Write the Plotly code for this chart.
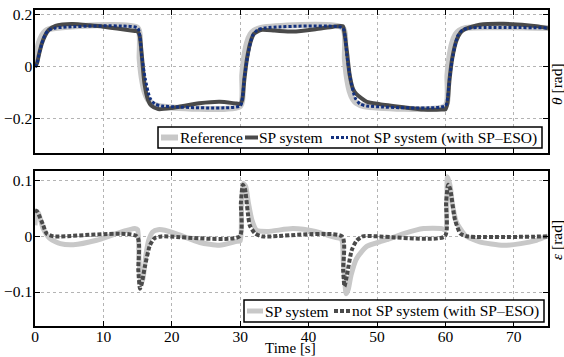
import plotly.graph_objects as go

# ---- data ----
# top: theta [rad]
t_ref = [0, 0.3, 0.6, 1.0, 1.5, 2.0, 3.0, 15.0, 15.3, 15.6, 16.0, 16.5, 17.0, 18.0,
         30.0, 30.3, 30.6, 31.0, 31.5, 32.0, 33.0, 45.0, 45.3, 45.6, 46.0, 46.5, 47.0, 48.0,
         60.0, 60.3, 60.6, 61.0, 61.5, 62.0, 63.0, 75.0]
theta_ref = [0, 0.06, 0.095, 0.12, 0.137, 0.145, 0.15, 0.15, 0.032, -0.04, -0.093, -0.125, -0.139, -0.15,
             -0.15, -0.032, 0.04, 0.093, 0.125, 0.139, 0.15, 0.15, 0.032, -0.04, -0.093, -0.125, -0.139, -0.15,
             -0.15, -0.032, 0.04, 0.093, 0.125, 0.139, 0.15, 0.15]

t_sp = [0, 0.3, 0.6, 1.0, 1.5, 2.0, 3.0, 4.0, 5.5, 8.0, 10.0, 12.0, 14.6, 15.0, 15.3, 15.6, 16.0, 16.5,
        17.0, 18.0, 20.0, 24.0, 27.0, 29.5, 30.0, 30.3, 30.6, 31.0, 31.5, 32.0, 33.0, 35.0, 37.7, 41.0,
        43.6, 45.0, 45.3, 45.6, 46.0, 46.5, 47.0, 48.5, 50.4, 53.9, 56.8, 59.5, 60.0, 60.3, 60.6, 61.0,
        61.6, 62.2, 62.9, 65.0, 68.5, 73.3, 75.0]
theta_sp = [0, 0.015, 0.05, 0.09, 0.122, 0.142, 0.158, 0.163, 0.165, 0.16, 0.155, 0.148, 0.138, 0.137,
            0.12, 0.05, -0.063, -0.125, -0.149, -0.162, -0.158, -0.14, -0.134, -0.141, -0.142, -0.127,
            -0.05, 0.033, 0.095, 0.127, 0.142, 0.14, 0.136, 0.145, 0.155, 0.157, 0.12, 0.06, -0.03,
            -0.085, -0.105, -0.134, -0.143, -0.155, -0.164, -0.164, -0.163, -0.139, -0.05, 0.033,
            0.1, 0.132, 0.146, 0.162, 0.166, 0.157, 0.149]

t_nsp = [0, 0.3, 0.6, 1.0, 1.5, 2.0, 3.0, 15.0, 15.35, 15.6, 16.1, 16.8, 17.5, 18.5,
         30.0, 30.35, 30.6, 31.1, 31.8, 32.5, 33.5, 45.0, 45.35, 45.6, 46.1, 46.8, 47.5, 48.5,
         60.0, 60.35, 60.6, 61.1, 61.8, 62.5, 63.5, 75.0]
theta_nsp = [0, 0.013, 0.05, 0.09, 0.125, 0.141, 0.15, 0.15, 0.114, 0.045, -0.043, -0.119, -0.142, -0.15,
             -0.15, -0.114, -0.045, 0.043, 0.119, 0.142, 0.15, 0.15, 0.114, 0.045, -0.043, -0.119, -0.142, -0.15,
             -0.15, -0.114, -0.045, 0.043, 0.119, 0.142, 0.15, 0.15]

# bottom: epsilon [rad]
t_esp = [0, 0.2, 0.5, 1.2, 2.2, 3.7, 5.6, 9.0, 11.9, 14.6, 15.0, 15.2, 15.5, 15.8, 16.2, 16.6, 17.2,
         18.0, 19.0, 21.0, 24.1, 27.0, 29.5, 30.0, 30.2, 30.45, 30.8, 31.2, 31.7, 32.4, 34.0, 37.7,
         41.0, 43.6, 44.8, 45.1, 45.5, 45.8, 46.2, 47.0, 48.5, 50.4, 51.4, 53.9, 56.8, 59.5, 60.0,
         60.3, 60.7, 61.0, 61.6, 62.9, 65.0, 68.5, 71.0, 73.3, 75.0]
eps_sp = [0.02, 0.045, 0.042, 0.014, -0.004, -0.013, -0.015, -0.007, 0.005, 0.014, 0.012, -0.04,
          -0.085, -0.075, -0.035, -0.008, 0.008, 0.012, 0.011, 0.003, -0.011, -0.016, -0.009, -0.008,
          0.05, 0.095, 0.09, 0.06, 0.03, 0.011, 0.009, 0.014, 0.009, -0.001, -0.005, -0.05, -0.103,
          -0.095, -0.07, -0.04, -0.018, -0.01, -0.006, 0.005, 0.014, 0.014, 0.012, 0.107, 0.09, 0.06,
          0.026, 0.002, -0.01, -0.016, -0.013, -0.007, 0.001]

t_ensp = [0, 0.3, 1.2, 1.7, 2.7, 14.9, 15.1, 15.35, 15.6, 16.1, 16.8, 17.5, 18.5, 29.9, 30.1, 30.4,
          30.7, 31.4, 32.2, 33.2, 44.9, 45.05, 45.25, 45.6, 46.3, 47.0, 47.9, 59.9, 60.1, 60.4, 60.7,
          61.4, 62.2, 63.2, 75.0]
eps_nsp = [0.047, 0.045, 0.02, 0.005, 0.0, 0.0, -0.06, -0.094, -0.085, -0.052, -0.016, -0.003, 0.0,
           0.0, 0.06, 0.093, 0.085, 0.02, 0.005, 0.0, 0.0, -0.06, -0.09, -0.07, -0.025, -0.008, 0.0,
           0.0, 0.06, 0.093, 0.085, 0.03, 0.005, 0.0, 0.0]

x_ticks = [0, 10, 20, 30, 40, 50, 60, 70]
top_ticks = [-0.2, 0, 0.2]
bot_ticks = [-0.1, 0, 0.1]

name_ref = "Reference"
name_sp = "SP system"
name_nsp = "not SP system (with SP–ESO)"

LIGHT = "#c8c8c8"
DARK = "#4a4a4a"
BLUE = "#13317f"
FONT = "Liberation Serif"

W, H = 564, 357
PX0, PX1, PY0, PY1 = 35, 548, 10, 326  # plot area in pixels
L, R, T, B = PX0, W - PX1, PY0, H - PY1


def px(sx):
    return (sx - PX0) / (PX1 - PX0)


def py(sy):
    return (PY1 - sy) / (PY1 - PY0)


fig = go.Figure()
fig.add_trace(go.Scatter(x=t_ref, y=theta_ref, mode="lines", name=name_ref,
                         line=dict(color=LIGHT, width=6, shape="spline", smoothing=0.6),
                         xaxis="x", yaxis="y"))
fig.add_trace(go.Scatter(x=t_sp, y=theta_sp, mode="lines", name=name_sp,
                         line=dict(color=DARK, width=4, shape="spline", smoothing=0.6),
                         xaxis="x", yaxis="y"))
fig.add_trace(go.Scatter(x=t_nsp, y=theta_nsp, mode="lines", name=name_nsp,
                         line=dict(color=BLUE, width=3, dash="3px,2px", shape="spline", smoothing=0.6),
                         xaxis="x", yaxis="y"))
fig.add_trace(go.Scatter(x=t_esp, y=eps_sp, mode="lines", name=name_sp,
                         line=dict(color=LIGHT, width=5, shape="spline", smoothing=0.6),
                         xaxis="x2", yaxis="y2"))
fig.add_trace(go.Scatter(x=t_ensp, y=eps_nsp, mode="lines", name=name_nsp,
                         line=dict(color=DARK, width=4, dash="4px,2px", shape="spline", smoothing=0.6),
                         xaxis="x2", yaxis="y2"))

axis_common = dict(showline=True, linecolor="black", linewidth=1.5, mirror="ticks",
                   ticks="inside", ticklen=5, tickwidth=1, tickcolor="black",
                   showgrid=True, gridcolor="#b4b4b4", griddash="dot", gridwidth=1,
                   zeroline=False, automargin=False,
                   tickfont=dict(family=FONT, size=15.5, color="black"))

fig.update_layout(
    width=W, height=H,
    margin=dict(l=L, r=R, t=T, b=B, autoexpand=False),
    paper_bgcolor="white", plot_bgcolor="white",
    font=dict(family=FONT, size=15.5, color="black"),
    showlegend=False,
    xaxis=dict(domain=[0, 1], range=[0, 75], tickvals=x_ticks, showticklabels=False,
               anchor="y", **axis_common),
    yaxis=dict(domain=[py(153), 1], range=[-0.331, 0.219], tickvals=top_ticks,
               anchor="x", ticklabelstandoff=-2, **axis_common),
    xaxis2=dict(domain=[0, 1], range=[0, 75], tickvals=x_ticks, anchor="y2",
                ticklabelstandoff=-4, **axis_common),
    yaxis2=dict(domain=[0, py(171)], range=[-0.161, 0.1175], tickvals=bot_ticks,
                anchor="x2", ticklabelstandoff=-2, **axis_common),
)

# ---- legend boxes (compact, as in the reference) ----
shapes = []
annots = []


def legend_box(x0, x1, y0, y1, items):
    shapes.append(dict(type="rect", xref="paper", yref="paper", x0=px(x0), x1=px(x1),
                       y0=py(y1), y1=py(y0), line=dict(color="black", width=1.5),
                       fillcolor="white", layer="above"))
    yc = (y0 + y1) / 2
    for (sx0, sx1, color, width, dash, tx, text) in items:
        shapes.append(dict(type="line", xref="paper", yref="paper", x0=px(sx0), x1=px(sx1),
                           y0=py(yc), y1=py(yc), layer="above",
                           line=dict(color=color, width=width, dash=dash)))
        annots.append(dict(text=text, xref="paper", yref="paper", x=px(tx - 2), y=py(yc),
                           xanchor="left", yanchor="middle", showarrow=False,
                           font=dict(family=FONT, size=15.5, color="black")))


legend_box(158, 542, 127, 148, [
    (161, 178, LIGHT, 6, "solid", 180, name_ref),
    (245, 258, DARK, 4, "solid", 259, name_sp),
    (331, 348, BLUE, 3, "3px,2px", 350, name_nsp),
])
legend_box(244, 544, 300, 322, [
    (247, 263, LIGHT, 5, "solid", 265, name_sp),
    (334, 350, DARK, 4, "4px,2px", 352, name_nsp),
])

annots.append(dict(text="<i>θ</i> [rad]", xref="paper", yref="paper", x=px(556), y=py(84),
                   xanchor="center", yanchor="middle", textangle=-90, showarrow=False,
                   font=dict(family=FONT, size=15.5)))
annots.append(dict(text="<i>ε</i> [rad]", xref="paper", yref="paper", x=px(556), y=py(240),
                   xanchor="center", yanchor="middle", textangle=-90, showarrow=False,
                   font=dict(family=FONT, size=15.5)))
annots.append(dict(text="Time [s]", xref="paper", yref="paper", x=px(290), y=py(357),
                   xanchor="center", yanchor="bottom", showarrow=False, borderpad=0,
                   font=dict(family=FONT, size=15)))

fig.update_layout(shapes=shapes, annotations=annots)

# remove the page's default body margin so the figure fills the 564x357 window exactly
fig.write_html("out.html", config={"displayModeBar": False},
               post_script="document.body.style.margin='0';document.body.style.overflow='hidden';")
